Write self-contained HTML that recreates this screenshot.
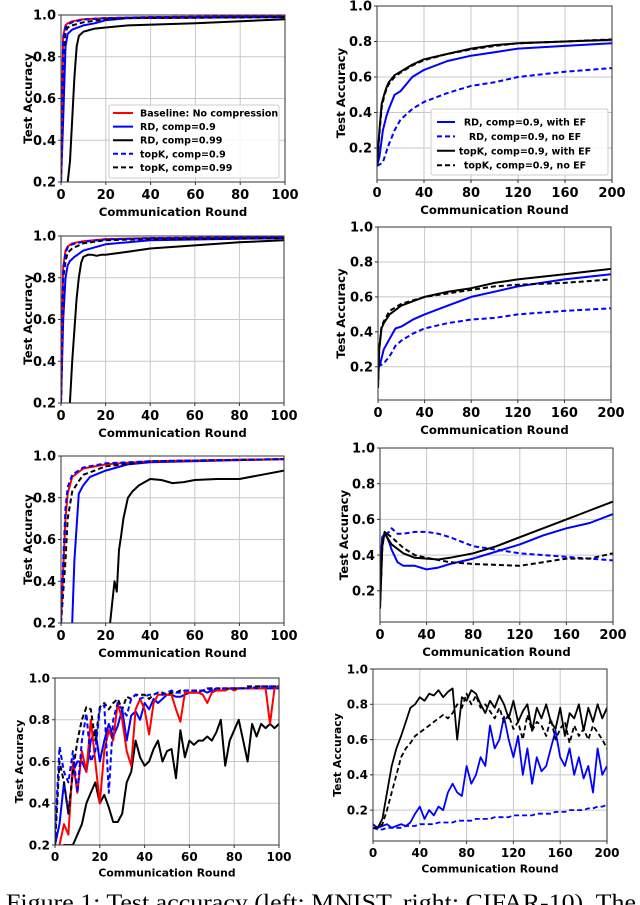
<!DOCTYPE html>
<html><head><meta charset="utf-8"><style>
html,body{margin:0;padding:0;background:#fff;width:640px;height:905px;overflow:hidden}
svg text{font-family:"DejaVu Sans","Liberation Sans",sans-serif;font-weight:bold;fill:#000}
</style></head><body>
<svg id="fig" width="640" height="905" viewBox="0 0 640 905">
<text x="6" y="910" textLength="630" lengthAdjust="spacingAndGlyphs" style="font-family:'Liberation Serif',serif;font-size:23px;font-weight:normal;">Figure 1: Test accuracy (left: MNIST, right: CIFAR-10). The</text>
</svg>
<script>
// ---------- data ----------
const p1_base_x=[0,1,2,3,5,10,20,40,100], p1_base_y=[0.2,0.9,0.95,0.96,0.97,0.98,0.985,0.99,0.995];
const p1_rd9_x=[0,1,2,3,5,10,15,20,30,100], p1_rd9_y=[0.2,0.5,0.85,0.91,0.93,0.95,0.96,0.975,0.985,0.99];
const p1_rd99_x=[3,4,5,6,7,8,10,15,20,30,60,100], p1_rd99_y=[0.2,0.3,0.5,0.7,0.85,0.9,0.92,0.935,0.94,0.95,0.96,0.98];
const p1_tk9_x=[0,1,2,3,5,10,20,40,100], p1_tk9_y=[0.2,0.88,0.94,0.955,0.965,0.978,0.985,0.99,0.995];
const p1_tk99_x=[0,1,2,3,5,10,20,30,100], p1_tk99_y=[0.2,0.8,0.92,0.94,0.95,0.965,0.98,0.985,0.99];

const p2_rdef_x=[0,2,5,8,10,15,20,25,30,40,60,80,100,120,160,200], p2_rdef_y=[0.1,0.15,0.3,0.38,0.42,0.5,0.52,0.56,0.6,0.64,0.69,0.72,0.74,0.76,0.775,0.79];
const p2_rdno_x=[0,3,5,8,10,15,20,30,40,60,80,100,120,160,200], p2_rdno_y=[0.1,0.11,0.12,0.18,0.22,0.3,0.36,0.42,0.46,0.51,0.55,0.57,0.6,0.63,0.65];
const p2_tkef_x=[0,2,4,6,8,10,15,20,30,40,60,80,100,120,160,200], p2_tkef_y=[0.1,0.3,0.45,0.5,0.54,0.57,0.61,0.63,0.67,0.7,0.73,0.76,0.78,0.79,0.8,0.81];
const p2_tkno_x=[0,2,4,6,8,10,15,20,30,40,60,80,100,120,160,200], p2_tkno_y=[0.1,0.28,0.43,0.49,0.53,0.56,0.6,0.625,0.665,0.695,0.73,0.755,0.775,0.79,0.8,0.812];

const p3_base_x=[0,1,2,3,5,10,20,40,100], p3_base_y=[0.2,0.85,0.93,0.95,0.965,0.975,0.985,0.99,0.995];
const p3_rd9_x=[0,1,2,3,4,6,10,20,40,100], p3_rd9_y=[0.2,0.6,0.8,0.86,0.88,0.9,0.93,0.96,0.98,0.99];
const p3_rd99_x=[4,5,6,7,8,9,10,12,14,16,18,20,30,40,60,80,100], p3_rd99_y=[0.2,0.4,0.55,0.7,0.8,0.87,0.9,0.91,0.91,0.905,0.91,0.91,0.925,0.94,0.955,0.97,0.98];
const p3_tk9_x=[0,1,2,3,5,10,20,40,100], p3_tk9_y=[0.2,0.83,0.92,0.945,0.96,0.972,0.983,0.99,0.995];
const p3_tk99_x=[0,1,2,3,5,10,20,40,100], p3_tk99_y=[0.2,0.8,0.88,0.92,0.94,0.965,0.98,0.985,0.99];

const p4_tkef_x=[0,1,3,5,10,20,40,60,80,100,120,160,200], p4_tkef_y=[0.08,0.3,0.42,0.45,0.5,0.55,0.6,0.63,0.65,0.68,0.7,0.73,0.76];
const p4_tkno_x=[0,1,3,5,10,20,40,60,80,100,120,160,200], p4_tkno_y=[0.08,0.3,0.43,0.46,0.52,0.56,0.6,0.62,0.64,0.66,0.67,0.68,0.7];
const p4_rdef_x=[0,2,5,10,15,20,30,40,60,80,100,120,160,200], p4_rdef_y=[0.2,0.22,0.3,0.36,0.42,0.43,0.47,0.5,0.55,0.6,0.63,0.66,0.7,0.73];
const p4_rdno_x=[0,5,10,15,20,30,40,60,80,100,120,160,200], p4_rdno_y=[0.2,0.22,0.26,0.32,0.35,0.39,0.42,0.45,0.47,0.48,0.5,0.52,0.535];

const p5_base_x=[0,1,2,3,5,10,20,40,100], p5_base_y=[0.2,0.45,0.7,0.82,0.9,0.94,0.96,0.975,0.985];
const p5_tk9_x=[0,1,2,3,5,10,20,40,100], p5_tk9_y=[0.2,0.5,0.75,0.85,0.91,0.945,0.965,0.975,0.985];
const p5_tk99_x=[0,2,3,5,8,10,20,40,100], p5_tk99_y=[0.2,0.5,0.7,0.83,0.88,0.91,0.95,0.975,0.985];
const p5_rd9_x=[5,6,8,10,13,20,30,40,100], p5_rd9_y=[0.2,0.5,0.82,0.86,0.9,0.93,0.96,0.97,0.985];
const p5_rd99_x=[22,23,24,25,26,27,28,30,32,35,40,45,50,55,60,70,80,90,100], p5_rd99_y=[0.2,0.3,0.4,0.35,0.55,0.62,0.7,0.8,0.83,0.86,0.89,0.885,0.87,0.875,0.885,0.89,0.89,0.91,0.93];

const p6_tkef_x=[0,2,4,6,10,20,30,40,50,60,80,100,120,140,160,180,200], p6_tkef_y=[0.1,0.45,0.53,0.5,0.46,0.41,0.385,0.38,0.375,0.385,0.41,0.45,0.5,0.55,0.6,0.65,0.7];
const p6_tkno_x=[0,2,4,6,10,20,30,40,60,80,100,120,140,160,180,200], p6_tkno_y=[0.1,0.45,0.53,0.52,0.5,0.44,0.4,0.385,0.36,0.35,0.345,0.34,0.36,0.38,0.38,0.41];
const p6_rdef_x=[0,2,4,6,8,10,15,20,30,40,50,60,80,100,120,140,160,180,200], p6_rdef_y=[0.3,0.5,0.52,0.5,0.47,0.43,0.36,0.34,0.34,0.32,0.33,0.35,0.38,0.42,0.46,0.51,0.55,0.58,0.63];
const p6_rdno_x=[0,2,5,8,10,15,20,30,40,50,60,80,100,120,140,160,180,200], p6_rdno_y=[0.3,0.5,0.52,0.53,0.55,0.52,0.52,0.53,0.53,0.52,0.5,0.45,0.43,0.41,0.4,0.39,0.38,0.37];

const p7_rounds=[0,2,4,6,8,10,12,14,16,18,20,22,24,26,28,30,32,34,36,38,40,42,44,46,48,50,52,54,56,58,60,62,64,66,68,70,72,74,76,78,80,82,84,86,88,90,92,94,96,98,100];
const p7_base=[0.15,0.2,0.3,0.25,0.6,0.45,0.65,0.55,0.8,0.6,0.4,0.65,0.75,0.7,0.88,0.8,0.65,0.58,0.85,0.9,0.85,0.73,0.88,0.92,0.92,0.92,0.92,0.85,0.79,0.93,0.93,0.93,0.93,0.92,0.88,0.93,0.94,0.94,0.94,0.95,0.94,0.95,0.95,0.95,0.95,0.95,0.95,0.95,0.78,0.95,0.96];
const p7_rd99=[0.1,0.15,0.2,0.2,0.2,0.25,0.3,0.4,0.45,0.5,0.4,0.44,0.38,0.31,0.31,0.35,0.5,0.55,0.7,0.62,0.58,0.6,0.66,0.7,0.6,0.65,0.66,0.52,0.75,0.62,0.7,0.68,0.7,0.7,0.72,0.7,0.74,0.8,0.58,0.7,0.75,0.8,0.7,0.6,0.78,0.72,0.78,0.76,0.78,0.76,0.78];
const p7_rd9=[0.2,0.3,0.5,0.35,0.55,0.6,0.6,0.55,0.7,0.75,0.6,0.7,0.78,0.72,0.77,0.85,0.7,0.82,0.84,0.8,0.88,0.85,0.9,0.88,0.9,0.92,0.92,0.91,0.91,0.92,0.93,0.93,0.93,0.94,0.93,0.94,0.94,0.94,0.94,0.95,0.95,0.95,0.95,0.95,0.95,0.95,0.95,0.95,0.95,0.95,0.95];
const p7_tk9=[0.25,0.67,0.55,0.5,0.65,0.45,0.7,0.83,0.6,0.65,0.85,0.87,0.45,0.8,0.88,0.85,0.82,0.9,0.92,0.9,0.91,0.92,0.92,0.93,0.92,0.93,0.94,0.93,0.93,0.94,0.94,0.94,0.94,0.94,0.95,0.94,0.95,0.95,0.95,0.95,0.95,0.95,0.95,0.95,0.96,0.95,0.96,0.96,0.96,0.96,0.96];
const p7_tk99=[0.2,0.6,0.5,0.35,0.55,0.7,0.8,0.86,0.85,0.7,0.86,0.88,0.85,0.88,0.9,0.85,0.91,0.9,0.92,0.92,0.92,0.9,0.92,0.93,0.93,0.92,0.93,0.93,0.94,0.94,0.94,0.94,0.94,0.94,0.95,0.95,0.95,0.95,0.95,0.95,0.95,0.95,0.95,0.96,0.96,0.96,0.96,0.96,0.96,0.96,0.96];

const p8_rounds=[0,4,8,12,16,20,24,28,32,36,40,44,48,52,56,60,64,68,72,76,80,84,88,92,96,100,104,108,112,116,120,124,128,132,136,140,144,148,152,156,160,164,168,172,176,180,184,188,192,196,200];
const p8_tkef=[0.1,0.1,0.15,0.3,0.45,0.55,0.62,0.7,0.78,0.8,0.84,0.82,0.86,0.85,0.88,0.84,0.87,0.89,0.6,0.84,0.82,0.88,0.86,0.8,0.75,0.82,0.78,0.85,0.8,0.72,0.82,0.7,0.76,0.8,0.65,0.78,0.72,0.8,0.7,0.66,0.78,0.62,0.75,0.72,0.8,0.65,0.78,0.7,0.8,0.72,0.78];
const p8_tkno=[0.1,0.1,0.12,0.2,0.3,0.4,0.5,0.55,0.58,0.62,0.64,0.66,0.68,0.7,0.72,0.74,0.72,0.75,0.8,0.78,0.86,0.8,0.85,0.78,0.8,0.76,0.72,0.78,0.7,0.74,0.66,0.7,0.6,0.74,0.65,0.7,0.68,0.62,0.72,0.6,0.66,0.7,0.58,0.68,0.62,0.66,0.6,0.68,0.64,0.6,0.55];
const p8_rdef=[0.12,0.1,0.11,0.12,0.1,0.11,0.12,0.11,0.13,0.18,0.22,0.15,0.2,0.17,0.22,0.2,0.3,0.35,0.3,0.28,0.45,0.35,0.4,0.5,0.45,0.68,0.55,0.6,0.73,0.6,0.5,0.62,0.4,0.55,0.35,0.5,0.42,0.45,0.55,0.65,0.5,0.45,0.55,0.4,0.5,0.38,0.45,0.3,0.55,0.4,0.45];
const p8_rdno=[0.1,0.09,0.09,0.1,0.1,0.1,0.1,0.11,0.11,0.11,0.12,0.12,0.12,0.12,0.13,0.13,0.13,0.13,0.14,0.14,0.14,0.14,0.15,0.15,0.15,0.15,0.16,0.16,0.16,0.16,0.17,0.17,0.17,0.17,0.17,0.18,0.18,0.18,0.18,0.19,0.19,0.19,0.2,0.2,0.2,0.2,0.21,0.21,0.22,0.22,0.23];

const mnistXTicks=[0,20,40,60,80,100];
const cifarXTicks=[0,40,80,120,160,200];
const yTicks=[0.2,0.4,0.6,0.8,1.0];
const legendMnist=["Baseline: No compression","RD, comp=0.9","RD, comp=0.99","topK, comp=0.9","topK, comp=0.99"];
const legendCifar=["RD, comp=0.9, with EF","RD, comp=0.9, no EF","topK, comp=0.9, with EF","topK, comp=0.9, no EF"];

// ---------- drawing ----------
const NS='http://www.w3.org/2000/svg';
const svg=document.getElementById('fig');
function mk(tag,attrs,parent){const e=document.createElementNS(NS,tag);for(const k in attrs)e.setAttribute(k,attrs[k]);(parent||svg).appendChild(e);return e;}
let clipId=0;
const RED='#ff0000',BLUE='#0000ff',BLK='#000000';
function panel(name,box,xmax,ymin,xticks,fs,series,legend){
  const g=mk('g',{});
  
  
  const sx=v=>box.l+(v/xmax)*(box.r-box.l);
  const sy=v=>box.b-(v-ymin)/(1-ymin)*(box.b-box.t);
  xticks.forEach(t=>{const l=mk('line',{x1:sx(t),x2:sx(t),y1:box.t,y2:box.b,stroke:'#c8c8c8','stroke-width':1},g);
    });
  yTicks.forEach(t=>{const l=mk('line',{x1:box.l,x2:box.r,y1:sy(t),y2:sy(t),stroke:'#c8c8c8','stroke-width':1},g);
    });
  const id='c'+(clipId++);
  const cp=mk('clipPath',{id:id},g);mk('rect',{x:box.l,y:box.t,width:box.r-box.l,height:box.b-box.t},cp);
  const lg=mk('g',{'clip-path':'url(#'+id+')'},g);
  series.forEach(s=>{
    const pts=s.x.map((xv,i)=>sx(xv).toFixed(1)+','+sy(s.y[i]).toFixed(1)).join(' ');
    const p=mk('polyline',{points:pts,fill:'none',stroke:s.c,'stroke-width':s.w||2,'stroke-dasharray':s.d?'5,3':'none','stroke-linejoin':'round'},lg);
    
    
  });
  const fr=mk('rect',{x:box.l,y:box.t,width:box.r-box.l,height:box.b-box.t,fill:'none',stroke:'#333','stroke-width':1},g);
  
  xticks.forEach(t=>{mk('line',{x1:sx(t),x2:sx(t),y1:box.b,y2:box.b+3,stroke:'#333'},g);
    const tx=mk('text',{x:sx(t),y:box.b+4+fs,'text-anchor':'middle','font-size':fs},g);tx.textContent=t;
    });
  yTicks.forEach(t=>{mk('line',{x1:box.l-3,x2:box.l,y1:sy(t),y2:sy(t),stroke:'#333'},g);
    const tx=mk('text',{x:box.l-5,y:sy(t)+fs*0.36,'text-anchor':'end','font-size':fs},g);tx.textContent=t.toFixed(1);
    });
  const xl=mk('text',{x:(box.l+box.r)/2,y:box.b+fs*2.3+4,'text-anchor':'middle','font-size':fs*0.9},g);xl.textContent='Communication Round';
  
  const yc=(box.t+box.b)/2, yx=box.yl;
  const yl=mk('text',{x:yx,y:yc,'text-anchor':'middle','font-size':fs*0.9,transform:'rotate(-90 '+yx+' '+yc+')'},g);yl.textContent='Test Accuracy';
  
  if(legend){
    const L=mk('g',{},g);
    
    
    mk('rect',{x:legend.x,y:legend.y,width:legend.w,height:legend.h,fill:'#fff','fill-opacity':0.85,stroke:'#ccc',rx:2},L);
    legend.items.forEach((it,i)=>{
      const y=legend.y0+i*legend.dy;
      mk('line',{x1:legend.lx,x2:legend.lx+legend.ll,y1:y,y2:y,stroke:it.c,'stroke-width':2,'stroke-dasharray':it.d?'5,3':'none'},L);
      const t=mk('text',{x:legend.tx,y:y+3.5,'font-size':9.5,'text-anchor':legend.anchor},L);t.textContent=it.t;
      
    });
  }
}
const mnistSeries=(p,w)=>[
 {n:'rd-0.99-line',x:p.rd99x,y:p.rd99y,c:BLK,w},
 {n:'rd-0.9-line',x:p.rd9x,y:p.rd9y,c:BLUE,w},
 {n:'baseline-line',x:p.bx,y:p.by,c:RED,w},
 {n:'topk-0.99-line',x:p.t99x,y:p.t99y,c:BLK,d:1,w},
 {n:'topk-0.9-line',x:p.t9x,y:p.t9y,c:BLUE,d:1,w}];
const cifarSeries=(p,w)=>[
 {n:'rd-no-ef-line',x:p.rnx,y:p.rny,c:BLUE,d:1,w},
 {n:'rd-with-ef-line',x:p.rex,y:p.rey,c:BLUE,w},
 {n:'topk-no-ef-line',x:p.tnx,y:p.tny,c:BLK,d:1,w},
 {n:'topk-with-ef-line',x:p.tex,y:p.tey,c:BLK,w}];

panel('mnist-panel-1',{l:61,r:285,t:15,b:182,yl:32},100,0.2,mnistXTicks,13,
 mnistSeries({bx:p1_base_x,by:p1_base_y,rd9x:p1_rd9_x,rd9y:p1_rd9_y,rd99x:p1_rd99_x,rd99y:p1_rd99_y,t9x:p1_tk9_x,t9y:p1_tk9_y,t99x:p1_tk99_x,t99y:p1_tk99_y}),
 {x:109,y:105,w:170,h:73,y0:113,dy:13.6,lx:113,ll:20,tx:140,anchor:'start',
  items:[{c:RED,t:legendMnist[0]},{c:BLUE,t:legendMnist[1]},{c:BLK,t:legendMnist[2]},{c:BLUE,d:1,t:legendMnist[3]},{c:BLK,d:1,t:legendMnist[4]}]});
panel('cifar-panel-1',{l:377,r:612,t:6,b:180,yl:345},200,0.02,cifarXTicks,13,
 cifarSeries({rex:p2_rdef_x,rey:p2_rdef_y,rnx:p2_rdno_x,rny:p2_rdno_y,tex:p2_tkef_x,tey:p2_tkef_y,tnx:p2_tkno_x,tny:p2_tkno_y}),
 {x:431,y:109,w:177,h:66,y0:122,dy:14.4,lx:437,ll:18,tx:525,anchor:'middle',
  items:[{c:BLUE,t:legendCifar[0]},{c:BLUE,d:1,t:legendCifar[1]},{c:BLK,t:legendCifar[2]},{c:BLK,d:1,t:legendCifar[3]}]});
panel('mnist-panel-2',{l:61,r:284,t:236,b:403,yl:32},100,0.2,mnistXTicks,13,
 mnistSeries({bx:p3_base_x,by:p3_base_y,rd9x:p3_rd9_x,rd9y:p3_rd9_y,rd99x:p3_rd99_x,rd99y:p3_rd99_y,t9x:p3_tk9_x,t9y:p3_tk9_y,t99x:p3_tk99_x,t99y:p3_tk99_y}));
panel('cifar-panel-2',{l:378,r:611,t:227,b:400,yl:345},200,0.01,cifarXTicks,13,
 cifarSeries({rex:p4_rdef_x,rey:p4_rdef_y,rnx:p4_rdno_x,rny:p4_rdno_y,tex:p4_tkef_x,tey:p4_tkef_y,tnx:p4_tkno_x,tny:p4_tkno_y}));
panel('mnist-panel-3',{l:61,r:284,t:456,b:623,yl:32},100,0.2,mnistXTicks,13,
 mnistSeries({bx:p5_base_x,by:p5_base_y,rd9x:p5_rd9_x,rd9y:p5_rd9_y,rd99x:p5_rd99_x,rd99y:p5_rd99_y,t9x:p5_tk9_x,t9y:p5_tk9_y,t99x:p5_tk99_x,t99y:p5_tk99_y}));
panel('cifar-panel-3',{l:380,r:613,t:448,b:622,yl:348},200,0.025,cifarXTicks,13,
 cifarSeries({rex:p6_rdef_x,rey:p6_rdef_y,rnx:p6_rdno_x,rny:p6_rdno_y,tex:p6_tkef_x,tey:p6_tkef_y,tnx:p6_tkno_x,tny:p6_tkno_y}));
panel('mnist-panel-4',{l:55,r:279,t:678,b:845,yl:23},100,0.2,mnistXTicks,12,
 mnistSeries({bx:p7_rounds,by:p7_base,rd9x:p7_rounds,rd9y:p7_rd9,rd99x:p7_rounds,rd99y:p7_rd99,t9x:p7_rounds,t9y:p7_tk9,t99x:p7_rounds,t99y:p7_tk99},2));
panel('cifar-panel-4',{l:373,r:607,t:669,b:841,yl:341},200,0.025,cifarXTicks,12,
 cifarSeries({rex:p8_rounds,rey:p8_rdef,rnx:p8_rounds,rny:p8_rdno,tex:p8_rounds,tey:p8_tkef,tnx:p8_rounds,tny:p8_tkno},1.8));
</script>
</body></html>
